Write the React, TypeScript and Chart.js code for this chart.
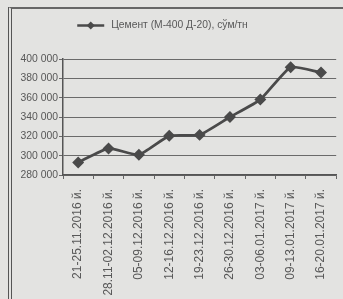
import React, { useEffect, useRef } from "react";
import { Chart, registerables } from "chart.js";

Chart.register(...registerables);

const categories = [
  "21-25.11.2016 й.",
  "28.11-02.12.2016 й.",
  "05-09.12.2016 й.",
  "12-16.12.2016 й.",
  "19-23.12.2016 й.",
  "26-30.12.2016 й.",
  "03-06.01.2017 й.",
  "09-13.01.2017 й.",
  "16-20.01.2017 й.",
];
const cementPrices = [293000, 307500, 301000, 320500, 321500, 340000, 358000, 391500, 386000];
const seriesLabel = "Цемент (М-400 Д-20), сўм/тн";
const yMin = 280000;
const yMax = 400000;
const yStep = 20000;

const INK = "#4a4a4a";
const TEXT = "#585858";
const FONT = "'Liberation Sans', Arial, sans-serif";

const legendPlugin = {
  id: "customLegend",
  afterDraw(chart: any) {
    const ctx = chart.ctx as CanvasRenderingContext2D;
    ctx.save();
    ctx.font = `10.3px ${FONT}`;
    const tw = ctx.measureText(seriesLabel).width;
    const iconW = 27;
    const gap = 7;
    const total = iconW + gap + tw;
    const x0 = chart.width / 2 - total / 2 - 9;
    const y = 25.5;
    ctx.strokeStyle = INK;
    ctx.lineWidth = 2.5;
    ctx.beginPath();
    ctx.moveTo(x0, y);
    ctx.lineTo(x0 + iconW, y);
    ctx.stroke();
    ctx.fillStyle = INK;
    const cx = x0 + iconW / 2;
    ctx.beginPath();
    ctx.moveTo(cx, y - 4);
    ctx.lineTo(cx + 4, y);
    ctx.lineTo(cx, y + 4);
    ctx.lineTo(cx - 4, y);
    ctx.closePath();
    ctx.fill();
    ctx.fillStyle = TEXT;
    ctx.textBaseline = "middle";
    ctx.textAlign = "left";
    ctx.fillText(seriesLabel, x0 + iconW + gap, y);
    ctx.restore();
  },
};

export default function App() {
  const ref = useRef<HTMLCanvasElement>(null);
  useEffect(() => {
    document.body.style.margin = "0";
    const chart = new Chart(ref.current!, {
      type: "line",
      data: {
        labels: categories,
        datasets: [
          {
            label: seriesLabel,
            data: cementPrices,
            borderColor: INK,
            backgroundColor: INK,
            borderWidth: 2.8,
            pointStyle: "rectRot",
            pointRadius: 4,
            pointBackgroundColor: INK,
            pointBorderColor: INK,
            tension: 0.15,
          },
        ],
      },
      options: {
        responsive: false,
        animation: false,
        layout: { padding: { top: 59, right: 3, left: 0, bottom: 0 } },
        plugins: {
          tooltip: { enabled: false },
          legend: { display: false },
        },
        scales: {
          x: {
            offset: true,
            grid: {
              offset: true,
              drawOnChartArea: false,
              drawTicks: true,
              tickLength: 4,
              color: "#666",
            },
            border: { color: "#555", width: 1.5 },
            ticks: {
              minRotation: 90,
              maxRotation: 90,
              autoSkip: false,
              color: TEXT,
              padding: 10,
              font: { family: FONT, size: 12 },
            },
            afterFit: (s: any) => {
              s.height = 124;
              s.paddingRight = 0;
              s.paddingLeft = 0;
            },
          },
          y: {
            min: yMin,
            max: yMax,
            grid: { color: "#6a6a6a", lineWidth: 1, tickLength: 4 },
            border: { color: "#555", width: 1.5 },
            ticks: {
              stepSize: yStep,
              color: TEXT,
              padding: 1,
              font: { family: FONT, size: 10.4 },
              callback: (v: any) =>
                Number(v).toLocaleString("en-US").replace(/,/g, " "),
            },
            afterFit: (s: any) => {
              s.width = 63;
            },
          },
        },
      },
      plugins: [legendPlugin],
    });
    return () => chart.destroy();
  }, []);

  return (
    <div style={{ position: "relative", width: 343, height: 299, background: "#e3e3e1", overflow: "hidden" }}>
      <div
        style={{
          position: "absolute",
          left: 8,
          top: 7,
          right: 0,
          bottom: 0,
          borderTop: "2px solid #666",
          borderLeft: "4px double #555",
        }}
      />
      <canvas ref={ref} width={343} height={299} style={{ position: "absolute", left: 0, top: 0 }} />
    </div>
  );
}
